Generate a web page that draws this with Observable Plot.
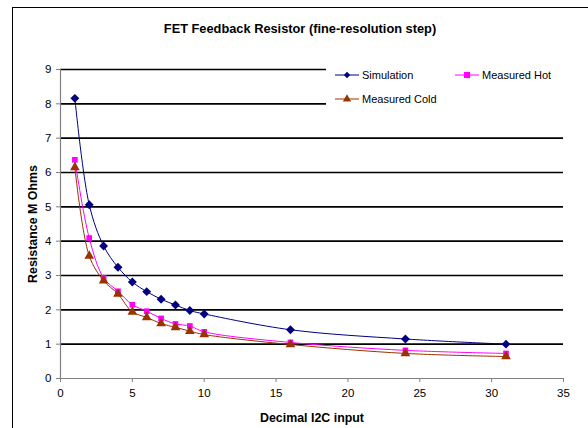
<!DOCTYPE html>
<html>
<head>
<meta charset="utf-8">
<script src="https://cdn.jsdelivr.net/npm/d3@7"></script>
<script src="https://cdn.jsdelivr.net/npm/@observablehq/plot@0.6"></script>
<style>
  html, body { margin: 0; padding: 0; background: #fff; }
  body { width: 588px; height: 428px; overflow: hidden; font-family: "Liberation Sans", Arial, sans-serif; }
  #wrap { position: relative; width: 588px; height: 428px; }
  #frame { position: absolute; left: 12px; top: 7px; width: 620px; height: 460px; border-left: 1.5px solid #000; border-top: 1.5px solid #000; pointer-events: none; }
  #title { position: absolute; left: 12px; width: 576px; top: 21px; text-align: center; font-weight: bold; font-size: 12.8px; color: #000; }
  #legend { position: absolute; left: 326px; top: 60px; width: 250px; height: 52px; background: #fff; font-size: 11px; }
  .item { position: absolute; display: flex; align-items: center; white-space: nowrap; }
  .item svg { margin-right: 2px; }
  #chart svg { position: absolute; left: 0; top: 0; }
  #chart g[aria-label="y-axis label"] text, #chart g[aria-label="x-axis label"] text { font-weight: bold; font-size: 12.4px; }
</style>
</head>
<body>
<div id="wrap">
  <div id="chart"></div>
  <div id="frame"></div>
  <div id="title">FET Feedback Resistor (fine-resolution step)</div>
  <div id="legend"></div>
</div>
<script>
const inputs = [1, 2, 3, 4, 5, 6, 7, 8, 9, 10, 16, 24, 31];
const simulation = [8.16, 5.06, 3.86, 3.24, 2.81, 2.53, 2.31, 2.14, 1.98, 1.88, 1.42, 1.15, 1.00];
const measuredHot = [6.37, 4.09, 2.93, 2.54, 2.15, 1.96, 1.75, 1.59, 1.53, 1.36, 1.05, 0.82, 0.73];
const measuredCold = [6.15, 3.57, 2.85, 2.46, 1.94, 1.78, 1.60, 1.49, 1.38, 1.28, 0.99, 0.73, 0.64];
const seriesNames = ["Simulation", "Measured Hot", "Measured Cold"];
const seriesColors = ["#000080", "#FF00FF", "#993300"];
const seriesSymbols = ["diamond2", "square", "triangle"];
const xTicks = [0, 5, 10, 15, 20, 25, 30, 35];
const yTicks = [0, 1, 2, 3, 4, 5, 6, 7, 8, 9];
const gridValues = [1, 2, 3, 4, 5, 6, 7, 8, 9];

const allSeries = [simulation, measuredHot, measuredCold];
const rows = [];
allSeries.forEach((vals, si) => {
  vals.forEach((v, i) => rows.push({series: seriesNames[si], x: inputs[i], y: v}));
});

const symR = {"diamond2": 4, "square": 3.2, "triangle": 3.6};

const marks = [
  Plot.ruleY(gridValues, {stroke: "#000", strokeWidth: 1.6}),
  Plot.ruleY([0], {stroke: "#808080", strokeWidth: 1.2}),
  Plot.ruleX([0], {stroke: "#808080", strokeWidth: 1.2}),
  Plot.axisX({ticks: xTicks, tickSize: 4, tickPadding: 6, stroke: "#808080", fontSize: 11.5,
    label: "Decimal I2C input", labelAnchor: "center", labelArrow: "none", labelOffset: 43}),
  Plot.axisY({ticks: yTicks, tickSize: 4, tickPadding: 5, stroke: "#808080", fontSize: 11.5,
    label: "Resistance M Ohms", labelAnchor: "center", labelArrow: "none", labelOffset: 32})
];
seriesNames.forEach((name, si) => {
  const d = rows.filter(r => r.series === name);
  marks.push(Plot.line(d, {x: "x", y: "y", stroke: seriesColors[si], strokeWidth: 1, curve: "catmull-rom"}));
  marks.push(Plot.dot(d, {x: "x", y: "y", symbol: seriesSymbols[si], fill: seriesColors[si], stroke: "none", r: symR[seriesSymbols[si]]}));
});

const chart = Plot.plot({
  width: 588,
  height: 428,
  marginLeft: 60,
  marginRight: 25,
  marginTop: 69,
  marginBottom: 50,
  style: {fontFamily: "'Liberation Sans', Arial, sans-serif", fontSize: "11.5px", color: "#000", background: "transparent"},
  x: {domain: [0, 35]},
  y: {domain: [0, 9]},
  marks
});
document.getElementById("chart").appendChild(chart);

// legend
const legend = document.getElementById("legend");
const positions = [[8, 9], [128, 9], [8, 33]];
seriesNames.forEach((name, si) => {
  const item = document.createElement("div");
  item.className = "item";
  item.style.left = positions[si][0] + "px";
  item.style.top = positions[si][1] + "px";
  const sw = d3.create("svg").attr("width", 26).attr("height", 12);
  sw.append("line").attr("x1", 1).attr("x2", 25).attr("y1", 6).attr("y2", 6).attr("stroke", seriesColors[si]).attr("stroke-width", 1);
  const sym = {"diamond2": d3.symbolDiamond2, "square": d3.symbolSquare, "triangle": d3.symbolTriangle}[seriesSymbols[si]];
  const area = {"diamond2": 26, "square": 38, "triangle": 30}[seriesSymbols[si]];
  sw.append("path").attr("d", d3.symbol(sym, area)()).attr("transform", "translate(13,6)").attr("fill", seriesColors[si]);
  item.appendChild(sw.node());
  const t = document.createElement("span");
  t.textContent = name;
  item.appendChild(t);
  legend.appendChild(item);
});
</script>
</body>
</html>
